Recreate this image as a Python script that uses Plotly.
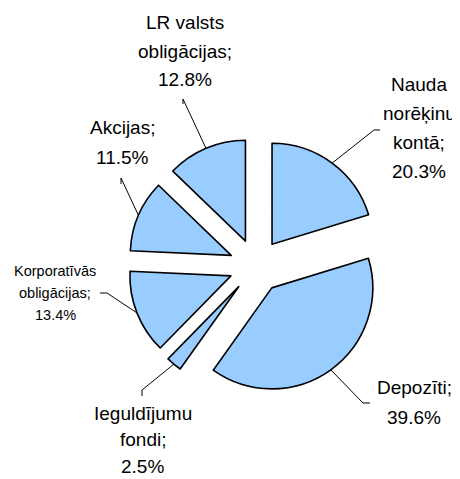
import math
import plotly.graph_objects as go

# ---- data ----
categories = ["Nauda norēķinu kontā", "Depozīti", "Ieguldījumu fondi",
              "Korporatīvās obligācijas", "Akcijas", "LR valsts obligācijas"]
shares = [20.3, 39.6, 2.5, 13.4, 11.5, 12.8]
label_lines = [
    ["Nauda", "norēķinu", "kontā;", "20.3%"],
    ["Depozīti;", "39.6%"],
    ["Ieguldījumu", "fondi;", "2.5%"],
    ["Korporatīvās", "obligācijas;", "13.4%"],
    ["Akcijas;", "11.5%"],
    ["LR valsts", "obligācijas;", "12.8%"],
]

# ---- layout constants (page pixels) ----
PAGE_W, PAGE_H = 460, 479
OFF = 8                       # default body margin of the html page
W, H = PAGE_W - OFF, PAGE_H - OFF
CX, CY = 256, 266      # pie centre (page px)
R = 101                # slice radius
PULL = 0.267           # explode fraction of radius
FONT = "Liberation Sans, Arial, sans-serif"

# label placement: (centre x, first line y, line step, font size)
label_pos = [
    (419, 85, 29, 19),
    (414, 387, 30, 19),
    (142.5, 413, 26.5, 19),
    (55, 271, 22, 14.5),
    (122, 128, 30, 19),
    (185, 23, 28.5, 19),
]
# leader line start points (near the labels), as polyline prefix
leader_start = [
    [(380, 130), (374, 130)],
    [(370, 403), (363, 403)],
    [(142, 396), (142, 390)],
    [(100, 293), (107, 293)],
    [(121, 184), (121, 178)],
    [(183, 104), (183, 99)],
]


def px(x, y):
    return (x - OFF) / W, 1 - (y - OFF) / H


box = R * (1 + PULL)
x0, y1 = px(CX - box, CY - box)
x1, y0 = px(CX + box, CY + box)

fig = go.Figure(go.Pie(
    labels=categories,
    values=shares,
    sort=False,
    direction="clockwise",
    rotation=0,
    pull=[PULL] * len(shares),
    textinfo="none",
    hoverinfo="label+percent",
    marker=dict(colors=["#99CCFF"] * len(shares),
                line=dict(color="#000000", width=1.6)),
    domain=dict(x=[x0, x1], y=[y0, y1]),
    showlegend=False,
))

total = sum(shares)
cum = 0.0
shapes = []
annotations = []
for i, v in enumerate(shares):
    mid = (cum + v / 2) / total
    cum += v
    th = 2 * math.pi * mid
    ax = CX + R * (1 + PULL) * math.sin(th)
    ay = CY - R * (1 + PULL) * math.cos(th)
    pts = leader_start[i] + [(ax, ay)]
    path = "M " + " L ".join(f"{px(x, y)[0]:.5f},{px(x, y)[1]:.5f}" for x, y in pts)
    shapes.append(dict(type="path", xref="paper", yref="paper", path=path,
                       line=dict(color="#000000", width=1)))
    lx, ly0, step, fs = label_pos[i]
    for k, t in enumerate(label_lines[i]):
        xp, yp = px(lx, ly0 + k * step)
        annotations.append(dict(x=xp, y=yp, xref="paper", yref="paper",
                                text=t, showarrow=False,
                                xanchor="center", yanchor="middle",
                                font=dict(family=FONT, size=fs, color="#000000")))

fig.update_layout(
    width=W, height=H,
    margin=dict(l=0, r=0, t=0, b=0),
    paper_bgcolor="white", plot_bgcolor="white",
    shapes=shapes, annotations=annotations,
)

fig.write_html("out.html")
